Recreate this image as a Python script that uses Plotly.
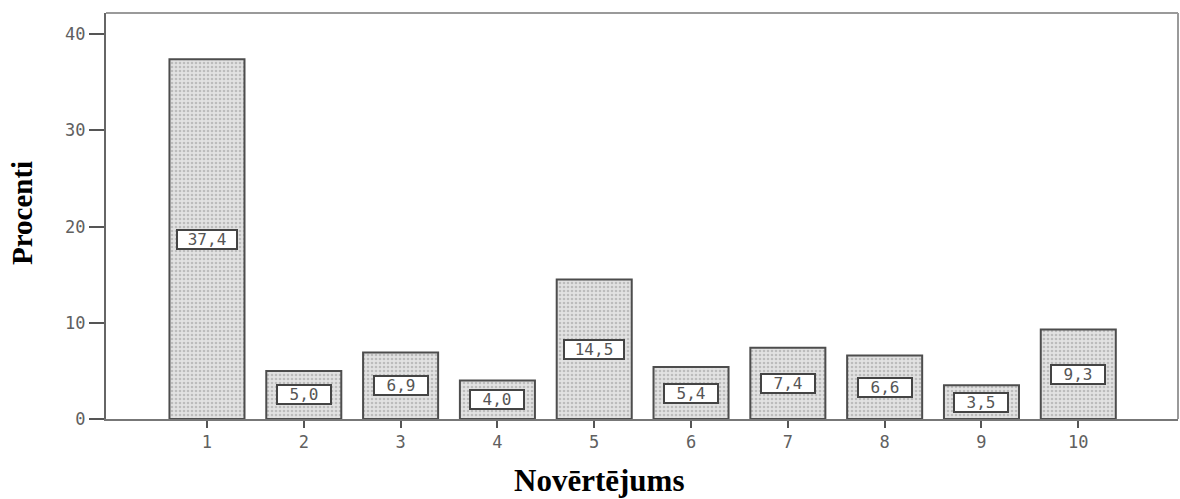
import plotly.graph_objects as go

# Novērtējums (rating) categories and their percentage shares
ratings = [1, 2, 3, 4, 5, 6, 7, 8, 9, 10]
percent = [37.4, 5.0, 6.9, 4.0, 14.5, 5.4, 7.4, 6.6, 3.5, 9.3]
y_ticks = [0, 10, 20, 30, 40]

label_font = dict(family="DejaVu Sans Mono", size=16, color="#555555")
tick_font = dict(family="DejaVu Sans Mono", size=17, color="#606060")
title_font = dict(family="Liberation Serif", color="black")

fig = go.Figure()
fig.add_trace(go.Bar(
    x=ratings,
    y=percent,
    width=0.775,
    marker=dict(
        color="#dcdcdc",
        line=dict(color="#4d4d4d", width=2),
        pattern=dict(shape=".", fgcolor="#959595", bgcolor="#e2e2e2",
                     size=4, solidity=0.35),
    ),
    hoverinfo="skip",
))

# value boxes in the middle of each bar, decimal comma
for xv, yv in zip(ratings, percent):
    fig.add_annotation(
        x=xv, y=yv / 2, xref="x", yref="y",
        text=f"{yv:.1f}".replace(".", ","),
        showarrow=False,
        font=label_font,
        width=56 if yv >= 10 else 50,
        height=15,
        align="center",
        bgcolor="white",
        bordercolor="#444444",
        borderwidth=2,
        borderpad=1,
    )

# axis titles
fig.add_annotation(
    x=599, y=481, xref="paper", yref="paper", text="<b>Novērtējums</b>",
    showarrow=False, xanchor="center", yanchor="middle",
    font=dict(size=31, **title_font),
)
fig.add_annotation(
    x=22, y=213, xref="paper", yref="paper", text="<b>Procenti</b>",
    showarrow=False, textangle=-90, xanchor="center", yanchor="middle",
    font=dict(size=29, **title_font),
)

# lighter frame on top and right
fig.add_shape(type="line", xref="paper", yref="paper", x0=0, x1=1, y0=1, y1=1,
              line=dict(color="#9a9a9a", width=2))
fig.add_shape(type="line", xref="paper", yref="paper", x0=1, x1=1, y0=0, y1=1,
              line=dict(color="#9a9a9a", width=2))

L, R, T, B = 106, 2, 13, 80
W, H = 1180, 499
# convert pixel positions of the titles into paper coordinates
for ann in fig.layout.annotations:
    if ann.xref == "paper":
        px, py = ann.x, ann.y
        ann.x = (px - L) / (W - L - R)
        ann.y = (H - B - py) / (H - T - B)

fig.update_layout(
    width=W,
    height=H,
    margin=dict(l=L, r=R, t=T, b=B),
    paper_bgcolor="white",
    plot_bgcolor="white",
    showlegend=False,
    xaxis=dict(
        range=[-0.043, 11.03],
        tickmode="array",
        tickvals=ratings,
        ticktext=[str(r) for r in ratings],
        ticks="outside",
        ticklen=7,
        tickwidth=2,
        tickcolor="#555555",
        showline=True,
        linecolor="#777777",
        linewidth=2,
        showgrid=False,
        zeroline=False,
        tickfont=tick_font,
    ),
    yaxis=dict(
        range=[0, 42.2],
        tickmode="array",
        tickvals=y_ticks,
        ticktext=[str(t) for t in y_ticks],
        ticks="outside",
        ticklen=15,
        tickwidth=2,
        tickcolor="#555555",
        showline=True,
        linecolor="#666666",
        linewidth=2,
        showgrid=False,
        zeroline=False,
        tickfont=tick_font,
    ),
)

fig.write_html("out.html")
